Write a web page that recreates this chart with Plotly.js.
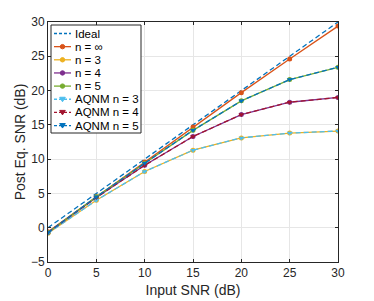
<!DOCTYPE html>
<html><head><meta charset="utf-8">
<script src="https://cdn.plot.ly/plotly-3.0.1.min.js"></script>
<style>html,body{margin:0;padding:0;background:#fff}#c{width:374px;height:301px}</style>
</head><body><div id="c"></div>
<script>
const inputSNR = [0, 5, 10, 15, 20, 25, 30];
const ideal = [0, 5, 10, 15, 20, 25, 30];
const nInf = [-0.6, 4.5, 9.6, 14.7, 19.7, 24.6, 29.4];
const n3 = [-0.8, 4.0, 8.2, 11.3, 13.1, 13.8, 14.1];
const n4 = [-0.7, 4.4, 9.1, 13.3, 16.5, 18.3, 19.0];
const n5 = [-0.7, 4.5, 9.4, 14.2, 18.5, 21.6, 23.4];
const aqnm3 = [-0.8, 4.0, 8.2, 11.3, 13.1, 13.8, 14.1];
const aqnm4 = [-0.7, 4.4, 9.1, 13.3, 16.5, 18.3, 19.0];
const aqnm5 = [-0.7, 4.5, 9.4, 14.2, 18.5, 21.6, 23.4];
const names = ['Ideal', 'n = \u221e', 'n = 3', 'n = 4', 'n = 5', 'AQNM n = 3', 'AQNM n = 4', 'AQNM n = 5'];

const FONT = 'Liberation Sans, Arial, Helvetica, sans-serif';
const W = 374, H = 301, M = {l: 48, r: 36, t: 22, b: 39};
const PW = W - M.l - M.r, PH = H - M.t - M.b;
const px2x = p => (p - M.l) / PW;
const py2y = p => (H - M.b - p) / PH;
const DASH = '5px,3px';

const styles = [
  {c: '#0072BD', dash: DASH, sym: null},
  {c: '#D95319', dash: 'solid', sym: 'circle'},
  {c: '#EDB120', dash: 'solid', sym: 'circle'},
  {c: '#7E2F8E', dash: 'solid', sym: 'circle'},
  {c: '#77AC30', dash: 'solid', sym: 'circle'},
  {c: '#4DBEEE', dash: DASH, sym: 'triangle-down'},
  {c: '#A2142F', dash: DASH, sym: 'triangle-down'},
  {c: '#0072BD', dash: DASH, sym: 'triangle-down'}
];
const series = [ideal, nInf, n3, n4, n5, aqnm3, aqnm4, aqnm5];

const data = series.map((y, i) => ({
  x: inputSNR, y: y, name: names[i], type: 'scatter',
  mode: styles[i].sym ? 'lines+markers' : 'lines',
  line: {color: styles[i].c, width: 1.3, dash: styles[i].dash},
  marker: {color: styles[i].c, symbol: styles[i].sym || 'circle', size: 5},
  showlegend: false
}));

// custom compact legend (MATLAB style)
const shapes = [];
const annotations = [];
const box = {x0: 51, x1: 141, y0: 25, y1: 133};
shapes.push({type: 'rect', xref: 'paper', yref: 'paper', x0: px2x(box.x0), x1: px2x(box.x1),
  y0: py2y(box.y1), y1: py2y(box.y0), line: {color: '#262626', width: 1}, fillcolor: '#fff', layer: 'above'});
const row0 = 33.5, rowStep = 13.15;
names.forEach((nm, i) => {
  const cy = row0 + i * rowStep;
  shapes.push({type: 'line', xref: 'paper', yref: 'paper', x0: px2x(54), x1: px2x(71),
    y0: py2y(cy), y1: py2y(cy), line: {color: styles[i].c, width: 1.3, dash: styles[i].dash === 'solid' ? 'solid' : '3px,2px'}, layer: 'above'});
  const mx = 62.5;
  if (styles[i].sym === 'circle') {
    shapes.push({type: 'circle', xref: 'paper', yref: 'paper', x0: px2x(mx - 2.2), x1: px2x(mx + 2.2),
      y0: py2y(cy + 2.2), y1: py2y(cy - 2.2), line: {color: styles[i].c, width: 1}, fillcolor: styles[i].c, layer: 'above'});
  } else if (styles[i].sym === 'triangle-down') {
    const a = [px2x(mx - 2.8), py2y(cy - 2)], b = [px2x(mx + 2.8), py2y(cy - 2)], c = [px2x(mx), py2y(cy + 2.5)];
    shapes.push({type: 'path', xref: 'paper', yref: 'paper',
      path: `M ${a[0]} ${a[1]} L ${b[0]} ${b[1]} L ${c[0]} ${c[1]} Z`,
      line: {color: styles[i].c, width: 1}, fillcolor: styles[i].c, layer: 'above'});
  }
  annotations.push({xref: 'paper', yref: 'paper', x: px2x(73), y: py2y(cy), xanchor: 'left', yanchor: 'middle',
    text: nm, showarrow: false, font: {family: FONT, size: 11.5, color: '#000'}});
});

const axisCommon = {showline: true, mirror: 'ticks', linecolor: '#262626', linewidth: 1,
  ticks: 'inside', ticklen: 3, tickcolor: '#262626', gridcolor: '#e6e6e6', zeroline: false,
  tickfont: {family: FONT, size: 12, color: '#262626'}};
const layout = {
  width: W, height: H, margin: M,
  paper_bgcolor: '#fff', plot_bgcolor: '#fff',
  showlegend: false,
  shapes: shapes, annotations: annotations,
  xaxis: Object.assign({}, axisCommon, {range: [0, 30], tickvals: [0,5,10,15,20,25,30],
    title: {text: 'Input SNR (dB)', standoff: 5, font: {family: FONT, size: 14, color: '#262626'}}}),
  yaxis: Object.assign({}, axisCommon, {range: [-5, 30], tickvals: [-5,0,5,10,15,20,25,30],
    title: {text: 'Post Eq. SNR (dB)', standoff: 2, font: {family: FONT, size: 14, color: '#262626'}}})
};
Plotly.newPlot('c', data, layout, {staticPlot: true, displayModeBar: false});
</script></body></html>
